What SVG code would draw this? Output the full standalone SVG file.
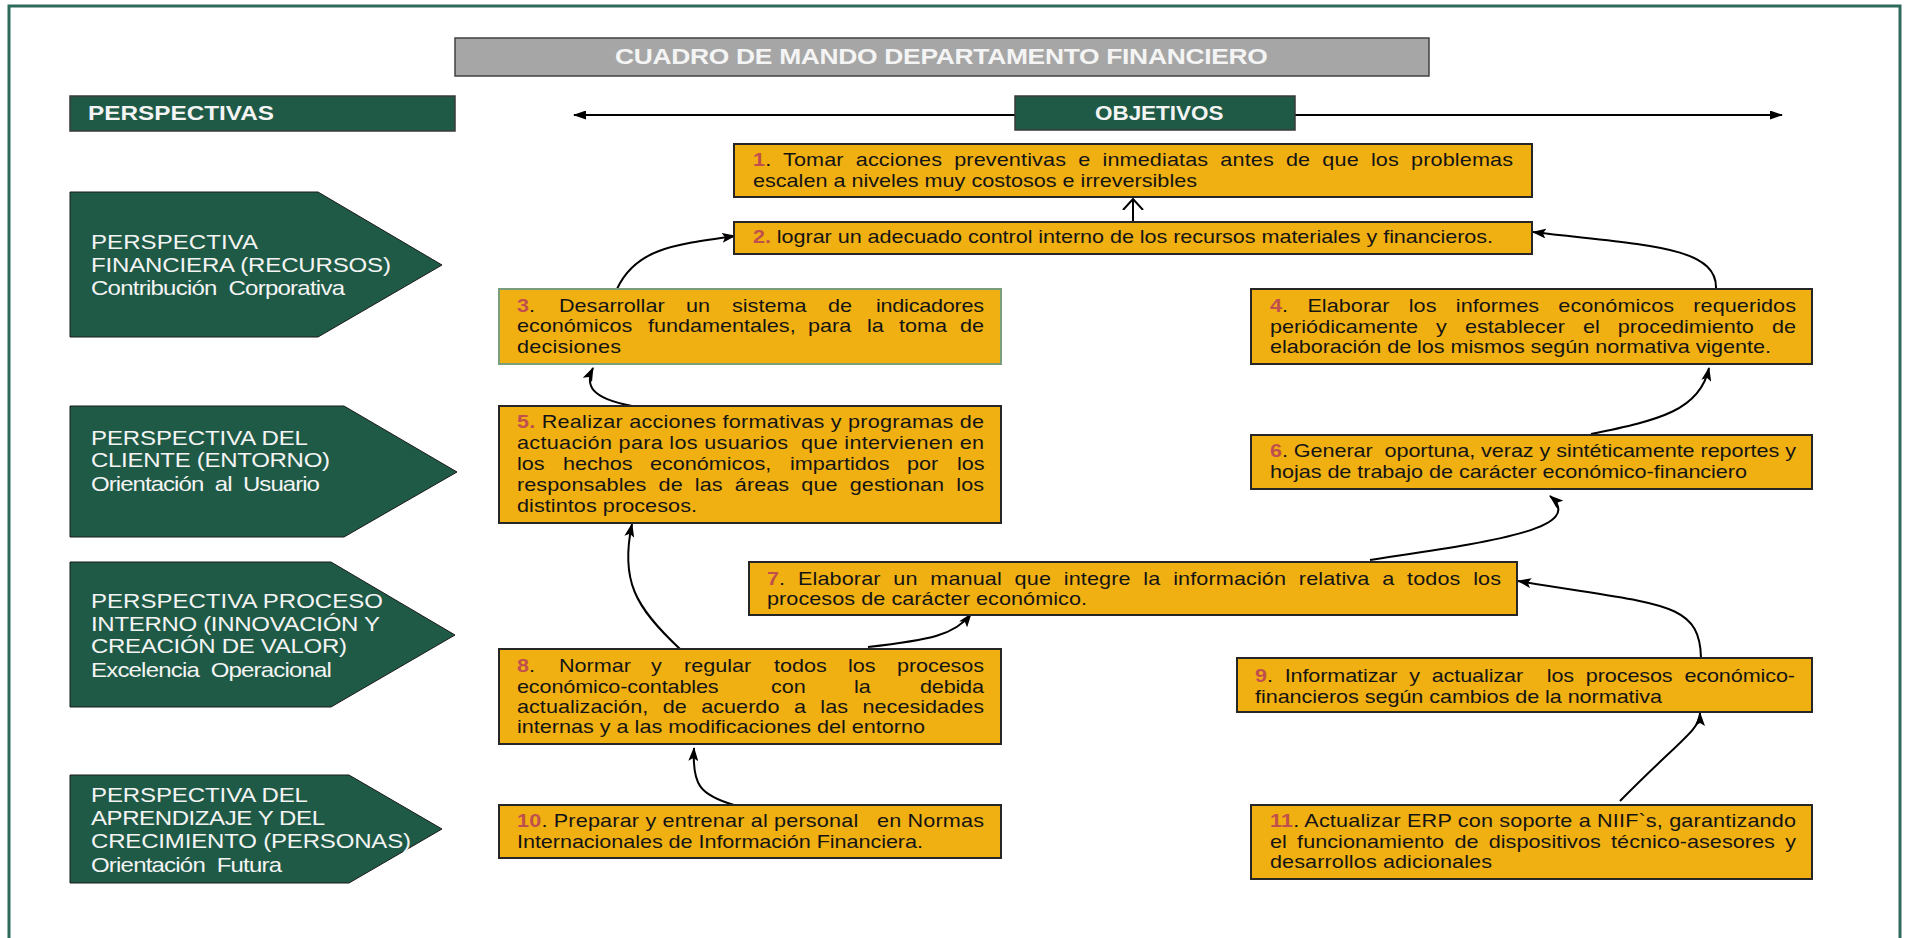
<svg xmlns="http://www.w3.org/2000/svg" width="1905" height="938" viewBox="0 0 1905 938">
<defs>
<style>
.frame{fill:#ffffff;stroke:#2D6A5A;stroke-width:3}
.box{fill:#F1B011;stroke:#262626;stroke-width:2}
.box3{fill:#F1B011;stroke:#7A9E7C;stroke-width:2}
.t{font-family:"Liberation Sans",Arial,sans-serif;font-size:18px;fill:#141414;white-space:pre}
.n{fill:#C0504D;font-weight:bold}
.p{fill:#1F5A46;stroke:#1a1a1a;stroke-width:1}
.pt{font-family:"Liberation Sans",Arial,sans-serif;font-size:20px;fill:#F4F4F4;white-space:pre}
.hd{fill:#1F5A46;stroke:#3a3a3a;stroke-width:1.5}
.ht{font-family:"Liberation Sans",Arial,sans-serif;font-size:20px;font-weight:bold;fill:#F4F4F4}
.c{fill:none;stroke:#000;stroke-width:2;marker-end:url(#ah)}
</style>
<marker id="ah" viewBox="0 0 14 10" refX="13" refY="5" markerWidth="14" markerHeight="10" markerUnits="userSpaceOnUse" orient="auto">
<path d="M0,0 L14,5 L0,10 L3,5 z" fill="#000"/>
</marker>
<marker id="ahs" viewBox="0 0 13 9" refX="12" refY="4.5" markerWidth="13" markerHeight="9" markerUnits="userSpaceOnUse" orient="auto-start-reverse">
<path d="M0,0 L13,4.5 L0,9 z" fill="#000"/>
</marker>
<marker id="ao" viewBox="0 0 12 22" refX="11" refY="11" markerWidth="12" markerHeight="22" markerUnits="userSpaceOnUse" orient="auto">
<path d="M0,1 L11,11 L0,21" fill="none" stroke="#000" stroke-width="2"/>
</marker>
</defs>

<rect class="frame" x="9" y="6" width="1891" height="1000"/>

<g id="title">
<rect x="455" y="38" width="974" height="38" fill="#A6A6A6" stroke="#404040" stroke-width="1.5"/>
<text class="ht" style="font-size:22px" transform="matrix(1.2 0 0 1 615 64)" textLength="544" lengthAdjust="spacing">CUADRO DE MANDO DEPARTAMENTO FINANCIERO</text>
</g>

<g id="connectors">
<line x1="574" y1="115" x2="1782" y2="115" stroke="#000" stroke-width="2" marker-start="url(#ahs)" marker-end="url(#ahs)"/>
<path d="M1133,222 L1133,199" fill="none" stroke="#000" stroke-width="2" marker-end="url(#ao)"/>
<path class="c" d="M617,289 C635,250 670,245 735,236"/>
<path class="c" d="M1716,289 C1718,245 1640,245 1533,232"/>
<path class="c" d="M632,406 C590,398 585,385 593,368"/>
<path class="c" d="M1591,434 C1660,420 1700,410 1709,368"/>
<path class="c" d="M680,649 C635,607 620,580 632,524"/>
<path class="c" d="M868,647 C930,640 955,635 971,614"/>
<path class="c" d="M1370,560 C1480,543 1590,530 1550,496"/>
<path class="c" d="M1701,658 C1700,600 1660,605 1518,581"/>
<path class="c" d="M734,805 C700,795 692,785 694,748"/>
<path class="c" d="M1620,801 C1680,740 1700,730 1700,713"/>
</g>

<g id="perspectivas">
<rect class="hd" x="70" y="96" width="385" height="35"/>
<text class="ht" transform="matrix(1.2 0 0 1 88 120)" textLength="155" lengthAdjust="spacingAndGlyphs">PERSPECTIVAS</text>
</g>

<g id="objetivos">
<rect class="hd" x="1015" y="96" width="280" height="34"/>
<text class="ht" transform="matrix(1.2 0 0 1 1095 120)" textLength="107" lengthAdjust="spacingAndGlyphs">OBJETIVOS</text>
</g>

<g id="p1">
<polygon class="p" points="70,192 318,192 442,265 318,337 70,337"/>
<text class="pt" transform="matrix(1.2 0 0 1 91 249)" textLength="139.2" lengthAdjust="spacing">PERSPECTIVA</text>
<text class="pt" transform="matrix(1.2 0 0 1 91 272)" textLength="250" lengthAdjust="spacing">FINANCIERA (RECURSOS)</text>
<text class="pt" transform="matrix(1.2 0 0 1 91 295)" textLength="211.7" lengthAdjust="spacing">Contribución  Corporativa</text>
</g>

<g id="p2">
<polygon class="p" points="70,406 344,406 457,472 344,537 70,537"/>
<text class="pt" transform="matrix(1.2 0 0 1 91 445)" textLength="180.8" lengthAdjust="spacing">PERSPECTIVA DEL</text>
<text class="pt" transform="matrix(1.2 0 0 1 91 467)" textLength="199.2" lengthAdjust="spacing">CLIENTE (ENTORNO)</text>
<text class="pt" transform="matrix(1.2 0 0 1 91 491)" textLength="190.8" lengthAdjust="spacing">Orientación  al  Usuario</text>
</g>

<g id="p3">
<polygon class="p" points="70,562 331,562 455,635 331,707 70,707"/>
<text class="pt" transform="matrix(1.2 0 0 1 91 608)" textLength="243.3" lengthAdjust="spacing">PERSPECTIVA PROCESO</text>
<text class="pt" transform="matrix(1.2 0 0 1 91 631)" textLength="240.8" lengthAdjust="spacing">INTERNO (INNOVACIÓN Y</text>
<text class="pt" transform="matrix(1.2 0 0 1 91 653)" textLength="213.3" lengthAdjust="spacing">CREACIÓN DE VALOR)</text>
<text class="pt" transform="matrix(1.2 0 0 1 91 677)" textLength="200.8" lengthAdjust="spacing">Excelencia  Operacional</text>
</g>

<g id="p4">
<polygon class="p" points="70,775 349,775 442,829 349,883 70,883"/>
<text class="pt" transform="matrix(1.2 0 0 1 91 802)" textLength="180.8" lengthAdjust="spacing">PERSPECTIVA DEL</text>
<text class="pt" transform="matrix(1.2 0 0 1 91 825)" textLength="195" lengthAdjust="spacing">APRENDIZAJE Y DEL</text>
<text class="pt" transform="matrix(1.2 0 0 1 91 848)" textLength="266.7" lengthAdjust="spacing">CRECIMIENTO (PERSONAS)</text>
<text class="pt" transform="matrix(1.2 0 0 1 91 872)" textLength="159.2" lengthAdjust="spacing">Orientación  Futura</text>
</g>

<g id="obj1">
<rect class="box" x="734" y="144" width="798" height="53"/>
<text class="t" style="word-spacing:5px" transform="matrix(1.2 0 0 1 753 166)" textLength="633.3" lengthAdjust="spacing"><tspan class="n">1</tspan>. Tomar acciones preventivas e inmediatas antes de que los problemas</text>
<text class="t" transform="matrix(1.2 0 0 1 753 187)" textLength="370" lengthAdjust="spacing">escalen a niveles muy costosos e irreversibles</text>
</g>

<g id="obj2">
<rect class="box" x="734" y="222" width="798" height="32"/>
<text class="t" transform="matrix(1.2 0 0 1 753 243)" textLength="616.7" lengthAdjust="spacing"><tspan class="n">2.</tspan> lograr un adecuado control interno de los recursos materiales y financieros.</text>
</g>

<g id="obj3">
<rect class="box3" x="499" y="289" width="502" height="75"/>
<text class="t" transform="matrix(1.2 0 0 1 517 312)"><tspan class="n">3</tspan>.</text>
<text class="t" transform="matrix(1.2 0 0 1 559 312)">Desarrollar</text>
<text class="t" transform="matrix(1.2 0 0 1 686 312)">un</text>
<text class="t" transform="matrix(1.2 0 0 1 732 312)">sistema</text>
<text class="t" transform="matrix(1.2 0 0 1 828 312)">de</text>
<text class="t" transform="matrix(1.2 0 0 1 876 312)" textLength="90" lengthAdjust="spacing">indicadores</text>
<text class="t" transform="matrix(1.2 0 0 1 517 332)">económicos</text>
<text class="t" transform="matrix(1.2 0 0 1 648 332)">fundamentales,</text>
<text class="t" transform="matrix(1.2 0 0 1 808 332)">para</text>
<text class="t" transform="matrix(1.2 0 0 1 867 332)">la</text>
<text class="t" transform="matrix(1.2 0 0 1 899 332)">toma</text>
<text class="t" transform="matrix(1.2 0 0 1 960 332)">de</text>
<text class="t" transform="matrix(1.2 0 0 1 517 353)" textLength="86.7" lengthAdjust="spacing">decisiones</text>
</g>

<g id="obj4">
<rect class="box" x="1251" y="289" width="561" height="75"/>
<text class="t" style="word-spacing:11px" transform="matrix(1.2 0 0 1 1270 312)" textLength="438.3" lengthAdjust="spacing"><tspan class="n">4</tspan>. Elaborar los informes económicos requeridos</text>
<text class="t" style="word-spacing:10px" transform="matrix(1.2 0 0 1 1270 333)" textLength="438.3" lengthAdjust="spacing">periódicamente y establecer el procedimiento de</text>
<text class="t" transform="matrix(1.2 0 0 1 1270 353)" textLength="417.5" lengthAdjust="spacing">elaboración de los mismos según normativa vigente.</text>
</g>

<g id="obj5">
<rect class="box" x="499" y="406" width="502" height="117"/>
<text class="t" transform="matrix(1.2 0 0 1 517 428)" textLength="389.2" lengthAdjust="spacing"><tspan class="n">5.</tspan> Realizar acciones formativas y programas de</text>
<text class="t" transform="matrix(1.2 0 0 1 517 449)" textLength="389.2" lengthAdjust="spacing">actuación para los usuarios  que intervienen en</text>
<text class="t" transform="matrix(1.2 0 0 1 517 470)">los</text>
<text class="t" transform="matrix(1.2 0 0 1 563 470)">hechos</text>
<text class="t" transform="matrix(1.2 0 0 1 650 470)">económicos,</text>
<text class="t" transform="matrix(1.2 0 0 1 790 470)">impartidos</text>
<text class="t" transform="matrix(1.2 0 0 1 907 470)">por</text>
<text class="t" transform="matrix(1.2 0 0 1 957 470)">los</text>
<text class="t" style="word-spacing:5px" transform="matrix(1.2 0 0 1 517 491)" textLength="389.2" lengthAdjust="spacing">responsables de las áreas que gestionan los</text>
<text class="t" transform="matrix(1.2 0 0 1 517 512)" textLength="150" lengthAdjust="spacing">distintos procesos.</text>
</g>

<g id="obj6">
<rect class="box" x="1251" y="435" width="561" height="54"/>
<text class="t" transform="matrix(1.2 0 0 1 1270 457)" textLength="438.3" lengthAdjust="spacing"><tspan class="n">6</tspan>. Generar  oportuna, veraz y sintéticamente reportes y</text>
<text class="t" transform="matrix(1.2 0 0 1 1270 478)" textLength="397.5" lengthAdjust="spacing">hojas de trabajo de carácter económico-financiero</text>
</g>

<g id="obj7">
<rect class="box" x="749" y="562" width="768" height="53"/>
<text class="t" style="word-spacing:5.5px" transform="matrix(1.2 0 0 1 767 585)" textLength="611.7" lengthAdjust="spacing"><tspan class="n">7</tspan>. Elaborar un manual que integre la información relativa a todos los</text>
<text class="t" transform="matrix(1.2 0 0 1 767 605)" textLength="266.7" lengthAdjust="spacing">procesos de carácter económico.</text>
</g>

<g id="obj8">
<rect class="box" x="499" y="649" width="502" height="95"/>
<text class="t" transform="matrix(1.2 0 0 1 517 672)"><tspan class="n">8</tspan>.</text>
<text class="t" transform="matrix(1.2 0 0 1 559 672)">Normar</text>
<text class="t" transform="matrix(1.2 0 0 1 651 672)">y</text>
<text class="t" transform="matrix(1.2 0 0 1 684 672)">regular</text>
<text class="t" transform="matrix(1.2 0 0 1 774 672)">todos</text>
<text class="t" transform="matrix(1.2 0 0 1 848 672)">los</text>
<text class="t" transform="matrix(1.2 0 0 1 897 672)" textLength="72.5" lengthAdjust="spacing">procesos</text>
<text class="t" transform="matrix(1.2 0 0 1 517 693)" textLength="168" lengthAdjust="spacing">económico-contables</text>
<text class="t" transform="matrix(1.2 0 0 1 771 693)">con</text>
<text class="t" transform="matrix(1.2 0 0 1 854 693)">la</text>
<text class="t" transform="matrix(1.2 0 0 1 920 693)" textLength="53.3" lengthAdjust="spacing">debida</text>
<text class="t" style="word-spacing:7px" transform="matrix(1.2 0 0 1 517 713)" textLength="389.2" lengthAdjust="spacing">actualización, de acuerdo a las necesidades</text>
<text class="t" transform="matrix(1.2 0 0 1 517 733)" textLength="340" lengthAdjust="spacing">internas y a las modificaciones del entorno</text>
</g>

<g id="obj9">
<rect class="box" x="1237" y="658" width="575" height="54"/>
<text class="t" style="word-spacing:5px" transform="matrix(1.2 0 0 1 1255 682)" textLength="450" lengthAdjust="spacing"><tspan class="n">9</tspan>. Informatizar y actualizar  los procesos económico-</text>
<text class="t" transform="matrix(1.2 0 0 1 1255 703)" textLength="339.2" lengthAdjust="spacing">financieros según cambios de la normativa</text>
</g>

<g id="obj10">
<rect class="box" x="499" y="805" width="502" height="53"/>
<text class="t" transform="matrix(1.2 0 0 1 517 827)" textLength="389.2" lengthAdjust="spacing"><tspan class="n">10</tspan>. Preparar y entrenar al personal   en Normas</text>
<text class="t" transform="matrix(1.2 0 0 1 517 848)" textLength="338.3" lengthAdjust="spacing">Internacionales de Información Financiera.</text>
</g>

<g id="obj11">
<rect class="box" x="1251" y="805" width="561" height="74"/>
<text class="t" transform="matrix(1.2 0 0 1 1270 827)" textLength="438.3" lengthAdjust="spacing"><tspan class="n">11</tspan>. Actualizar ERP con soporte a NIIF`s, garantizando</text>
<text class="t" style="word-spacing:3.5px" transform="matrix(1.2 0 0 1 1270 848)" textLength="438.3" lengthAdjust="spacing">el funcionamiento de dispositivos técnico-asesores y</text>
<text class="t" transform="matrix(1.2 0 0 1 1270 868)" textLength="185" lengthAdjust="spacing">desarrollos adicionales</text>
</g>
</svg>
